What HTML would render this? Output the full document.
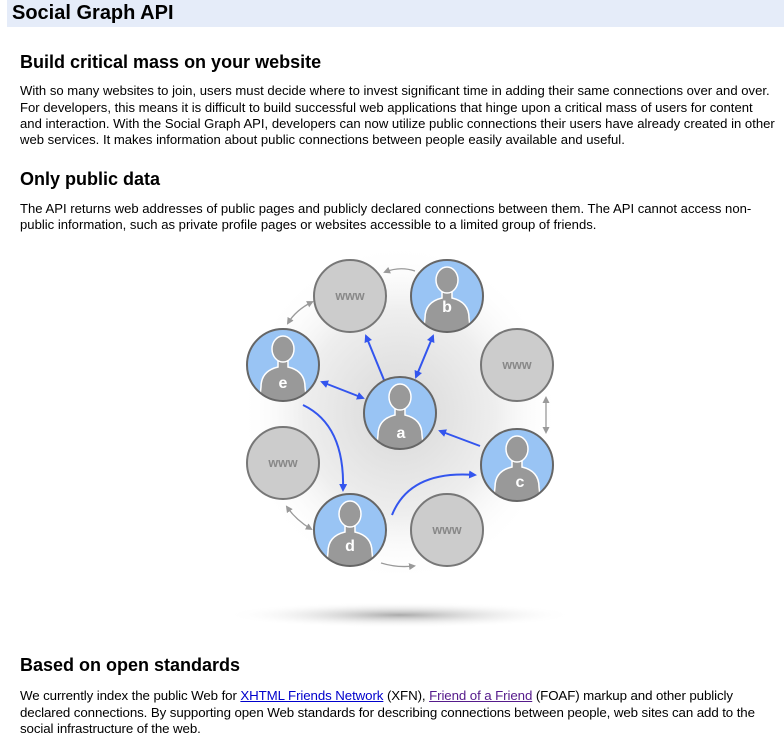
<!DOCTYPE html>
<html><head><meta charset="utf-8"><style>
body{margin:0;width:784px;height:740px;background:#fff;font-family:"Liberation Sans",sans-serif;color:#000;position:relative;overflow:hidden}
.bar{position:absolute;left:7px;top:0;width:777px;height:27px;background:#e5ecf9}
.t{position:absolute;left:12px;top:1px;font-size:20px;font-weight:bold;line-height:24px}
h2{position:absolute;left:20px;margin:0;font-size:18px;font-weight:bold;line-height:20px}
.l{position:absolute;left:20px;font-size:13.1px;line-height:16px;white-space:nowrap}
.n{font-size:13.3px;letter-spacing:-0.1px}
a{color:#00c}a.v{color:#551a8b}
svg{position:absolute;left:0;top:0}
</style></head><body>
<div class="bar"></div><div class="t">Social Graph API</div>
<h2 style="top:52px">Build critical mass on your website</h2>
<div class="l" style="top:83px">With so many websites to join, users must decide where to invest significant time in adding their same connections over and over.</div>
<div class="l" style="top:100px">For developers, this means it is difficult to build successful web applications that hinge upon a critical mass of users for content</div>
<div class="l" style="top:116px">and interaction. With the Social Graph API, developers can now utilize public connections their users have already created in other</div>
<div class="l" style="top:132px">web services. It makes information about public connections between people easily available and useful.</div>
<h2 style="top:169px">Only public data</h2>
<div class="l" style="top:201px">The API returns web addresses of public pages and publicly declared connections between them. The API cannot access non-</div>
<div class="l" style="top:217px">public information, such as private profile pages or websites accessible to a limited group of friends.</div>
<h2 style="top:655px">Based on open standards</h2>
<div class="l n" style="top:688px">We currently index the public Web for <a href="#">XHTML Friends Network</a> (XFN), <a class="v" href="#">Friend of a Friend</a> (FOAF) markup and other publicly</div>
<div class="l n" style="top:705px">declared connections. By supporting open Web standards for describing connections between people, web sites can add to the</div>
<div class="l n" style="top:721px">social infrastructure of the web.</div>
<svg width="784" height="740" viewBox="0 0 784 740">
<defs>
<radialGradient id="bg"><stop offset="0" stop-color="#d8d8d8"/><stop offset="0.6" stop-color="#eee"/><stop offset="1" stop-color="#fff" stop-opacity="0"/></radialGradient>
<radialGradient id="sh"><stop offset="0" stop-color="#aaa"/><stop offset="1" stop-color="#fff" stop-opacity="0"/></radialGradient>
<marker id="bm" markerWidth="8" markerHeight="8" refX="6" refY="4" orient="auto-start-reverse" markerUnits="userSpaceOnUse"><path d="M0,0L8,4L0,8z" fill="#3355ee"/></marker>
<marker id="gm" markerWidth="7" markerHeight="7" refX="5" refY="3.5" orient="auto-start-reverse" markerUnits="userSpaceOnUse"><path d="M0,0L7,3.5L0,7z" fill="#999"/></marker>
<clipPath id="cp"><circle r="36"/></clipPath>
<g id="p"><circle r="36" fill="#99c4f4"/><g clip-path="url(#cp)" fill="#999" stroke="#fff" stroke-width="1.5"><path d="M-5,-4 L-5,2 Q-22,6 -22,22 L-24,40 L24,40 L22,22 Q22,6 5,2 L5,-4z"/><ellipse cx="0" cy="-16" rx="11" ry="13"/></g><circle r="36" fill="none" stroke="#666" stroke-width="2"/></g>
<g id="w"><circle r="36" fill="#ccc" stroke="#777" stroke-width="2"/></g>
</defs>
<ellipse cx="400" cy="413" rx="160" ry="170" fill="url(#bg)"/>
<ellipse cx="400" cy="615" rx="175" ry="13" fill="url(#sh)"/>
<g fill="none" stroke="#999" stroke-width="1.3">
<path d="M415,271 Q400,266 385,272" marker-end="url(#gm)"/>
<path d="M312,302 Q296,310 288,323" marker-start="url(#gm)" marker-end="url(#gm)"/>
<path d="M546,398 L546,432" marker-start="url(#gm)" marker-end="url(#gm)"/>
<path d="M287,507 Q296,520 311,529" marker-start="url(#gm)" marker-end="url(#gm)"/>
<path d="M381,563 Q397,568 414,566" marker-end="url(#gm)"/>
</g>
<g fill="none" stroke="#3355ee" stroke-width="2">
<path d="M384,380 L366,336" marker-end="url(#bm)"/>
<path d="M416,377 L433,336" marker-start="url(#bm)" marker-end="url(#bm)"/>
<path d="M322,382 L363,398" marker-start="url(#bm)" marker-end="url(#bm)"/>
<path d="M480,446 L440,431" marker-end="url(#bm)"/>
<path d="M303,405 Q345,425 343,490" marker-end="url(#bm)"/>
<path d="M392,515 Q410,470 475,475" marker-end="url(#bm)"/>
</g>
<use href="#w" x="350" y="296"/><use href="#p" x="447" y="296"/>
<use href="#p" x="283" y="365"/><use href="#w" x="517" y="365"/>
<use href="#p" x="400" y="413"/><use href="#p" x="517" y="465"/>
<use href="#w" x="283" y="463"/><use href="#p" x="350" y="530"/>
<use href="#w" x="447" y="530"/>
<g font-family="Liberation Sans,sans-serif" font-weight="bold" fill="#888" font-size="12.5" text-anchor="middle">
<text x="350" y="300">www</text><text x="517" y="369">www</text><text x="283" y="467">www</text><text x="447" y="534">www</text>
</g>
<g font-family="Liberation Sans,sans-serif" font-weight="bold" fill="#fff" font-size="16" text-anchor="middle">
<text x="447" y="312">b</text><text x="283" y="388">e</text><text x="401" y="438">a</text><text x="520" y="487">c</text><text x="350" y="551">d</text>
</g>
</svg>
</body></html>
